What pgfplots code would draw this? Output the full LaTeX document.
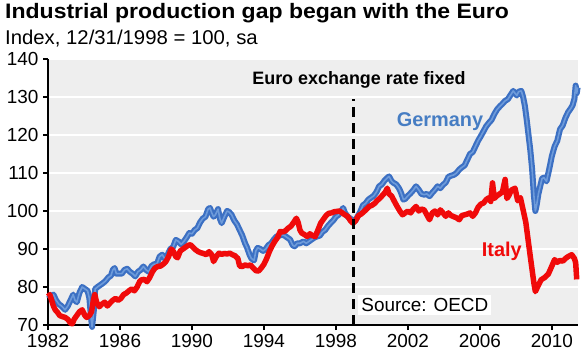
\documentclass[border=0pt]{standalone}
\usepackage{pgfplots}
\pgfplotsset{compat=1.18}
\usepackage{fontspec}
\setmainfont{Liberation Sans}
\definecolor{bg}{RGB}{238,238,238}
\definecolor{deblue}{RGB}{60,112,195}
\definecolor{deblueinner}{RGB}{110,155,218}
\definecolor{labblue}{RGB}{70,125,195}
\definecolor{itred}{RGB}{240,10,10}
\pgfplotstableread{
x y
1982.0 78.0
1982.15 77.5
1982.3 78.0
1982.45 76.5
1982.6 75.5
1982.75 75.0
1982.95 74.0
1983.1 75.0
1983.25 76.5
1983.4 78.0
1983.5 76.5
1983.6 76.0
1983.75 78.5
1983.9 80.0
1984.05 79.5
1984.2 79.0
1984.3 77.0
1984.4 71.5
1984.45 69.5
1984.55 74.0
1984.62 79.5
1984.75 80.0
1984.9 80.5
1985.05 81.0
1985.2 81.6
1985.35 82.5
1985.5 83.0
1985.6 84.5
1985.7 85.0
1985.8 83.5
1985.95 83.5
1986.1 83.5
1986.25 84.5
1986.4 84.8
1986.55 84.0
1986.7 83.5
1986.85 82.8
1987.0 84.0
1987.15 84.5
1987.3 85.4
1987.45 84.5
1987.6 84.0
1987.75 85.5
1987.9 86.0
1988.05 86.0
1988.2 88.0
1988.35 88.5
1988.5 87.4
1988.65 88.5
1988.8 90.0
1988.95 90.5
1989.1 92.4
1989.25 92.0
1989.4 91.2
1989.55 92.0
1989.7 93.0
1989.85 94.2
1990.0 94.0
1990.15 95.0
1990.3 95.5
1990.45 97.0
1990.6 98.0
1990.75 98.5
1990.9 100.5
1991.0 100.8
1991.1 99.5
1991.2 98.5
1991.3 99.0
1991.45 100.5
1991.55 98.0
1991.65 96.8
1991.8 98.5
1991.95 100.0
1992.05 99.8
1992.2 99.0
1992.35 97.5
1992.5 96.5
1992.65 95.0
1992.8 93.5
1992.95 91.5
1993.05 90.5
1993.2 88.5
1993.3 87.5
1993.45 87.0
1993.55 89.5
1993.65 90.3
1993.8 90.0
1993.95 89.5
1994.1 90.0
1994.25 91.0
1994.4 91.5
1994.55 92.5
1994.7 93.3
1994.85 93.5
1995.0 93.8
1995.15 93.5
1995.3 93.0
1995.45 92.5
1995.6 91.0
1995.7 90.7
1995.85 91.5
1996.0 91.5
1996.2 92.0
1996.35 91.5
1996.5 92.0
1996.65 92.5
1996.8 93.0
1996.95 93.3
1997.1 93.5
1997.25 94.5
1997.4 95.0
1997.55 96.0
1997.7 96.8
1997.85 97.5
1998.0 98.5
1998.15 99.0
1998.3 100.0
1998.4 100.8
1998.5 99.5
1998.65 98.5
1998.8 98.0
1998.95 97.5
1999.05 97.3
1999.2 98.5
1999.35 99.8
1999.5 101.5
1999.65 102.0
1999.8 103.0
1999.95 103.5
2000.1 104.0
2000.25 105.0
2000.4 106.5
2000.55 107.0
2000.7 108.0
2000.85 108.7
2000.95 109.1
2001.1 107.8
2001.2 107.4
2001.35 107.0
2001.5 106.0
2001.6 105.0
2001.75 103.0
2001.85 103.2
2002.0 104.0
2002.15 104.7
2002.3 105.5
2002.45 106.5
2002.6 105.6
2002.75 104.5
2002.9 104.3
2003.05 104.5
2003.2 103.9
2003.35 104.8
2003.5 105.6
2003.65 106.5
2003.8 106.0
2003.95 106.9
2004.1 107.5
2004.25 109.0
2004.4 109.3
2004.55 109.5
2004.7 110.0
2004.85 110.9
2005.0 111.5
2005.15 112.0
2005.3 113.5
2005.45 115.0
2005.6 115.5
2005.75 117.0
2005.9 118.5
2006.05 119.7
2006.2 121.0
2006.35 122.3
2006.5 123.2
2006.65 124.0
2006.8 125.5
2006.95 126.7
2007.1 127.5
2007.25 128.2
2007.4 129.0
2007.55 129.4
2007.7 130.5
2007.85 131.6
2007.95 131.0
2008.05 130.4
2008.15 131.4
2008.3 131.6
2008.4 130.0
2008.5 127.6
2008.6 124.0
2008.7 120.0
2008.8 116.0
2008.9 111.0
2009.0 104.0
2009.08 100.0
2009.15 101.5
2009.25 104.5
2009.35 106.5
2009.45 108.5
2009.55 108.8
2009.7 107.8
2009.85 111.0
2010.0 114.5
2010.15 117.0
2010.3 118.5
2010.45 121.5
2010.6 122.5
2010.75 124.5
2010.9 126.0
2011.05 127.0
2011.15 127.8
2011.25 129.5
2011.32 133.0
2011.38 131.0
2011.43 132.5
}\germany
\pgfplotstableread{
x y
1982.0 77.5
1982.1 78.0
1982.2 76.5
1982.3 75.0
1982.4 74.0
1982.5 73.5
1982.65 72.5
1982.8 72.2
1982.95 72.0
1983.1 71.5
1983.25 70.5
1983.35 70.3
1983.45 71.5
1983.6 72.5
1983.75 73.5
1983.9 74.0
1984.05 72.5
1984.15 72.0
1984.3 72.5
1984.42 73.5
1984.52 76.5
1984.6 78.0
1984.7 76.0
1984.85 74.8
1985.0 75.5
1985.15 76.0
1985.3 75.0
1985.45 75.8
1985.6 76.5
1985.75 77.0
1985.9 76.5
1986.05 77.0
1986.2 78.0
1986.35 78.4
1986.5 79.0
1986.65 79.5
1986.8 79.0
1986.95 80.0
1987.1 81.5
1987.2 81.9
1987.35 82.0
1987.5 81.4
1987.65 82.5
1987.8 84.0
1987.95 85.0
1988.1 85.4
1988.25 85.5
1988.4 86.0
1988.55 86.7
1988.7 88.0
1988.85 90.0
1988.95 89.5
1989.1 88.0
1989.2 87.7
1989.35 89.5
1989.5 90.0
1989.65 90.5
1989.8 91.0
1989.92 91.1
1990.05 90.5
1990.2 89.8
1990.35 89.3
1990.5 89.0
1990.65 88.8
1990.8 88.5
1990.95 89.3
1991.1 88.5
1991.2 86.7
1991.35 88.0
1991.5 88.9
1991.65 88.6
1991.8 88.8
1991.95 88.7
1992.1 88.9
1992.25 88.5
1992.4 88.2
1992.55 87.5
1992.65 85.5
1992.8 85.4
1992.95 85.8
1993.1 85.6
1993.25 85.8
1993.4 85.0
1993.55 84.3
1993.7 84.2
1993.85 85.0
1994.0 86.0
1994.15 87.5
1994.3 89.3
1994.45 90.8
1994.6 92.0
1994.75 93.0
1994.9 94.6
1995.05 94.5
1995.2 94.8
1995.35 95.5
1995.5 96.0
1995.65 97.0
1995.8 98.1
1995.9 97.0
1996.0 95.0
1996.1 94.2
1996.25 93.8
1996.4 93.3
1996.55 94.0
1996.7 93.5
1996.85 93.3
1997.0 95.0
1997.15 96.8
1997.3 97.8
1997.45 98.8
1997.6 99.4
1997.75 99.5
1997.9 99.8
1998.05 99.9
1998.2 100.0
1998.35 99.5
1998.5 99.0
1998.65 98.6
1998.8 97.5
1998.95 96.8
1999.1 97.5
1999.25 98.8
1999.4 99.2
1999.55 99.8
1999.7 100.5
1999.85 101.2
2000.0 101.5
2000.15 102.0
2000.3 102.8
2000.45 103.4
2000.6 104.2
2000.75 105.0
2000.85 106.0
2000.95 104.5
2001.1 103.9
2001.25 102.5
2001.4 101.2
2001.55 100.0
2001.7 99.0
2001.85 99.5
2002.0 100.0
2002.15 99.5
2002.3 100.5
2002.45 101.2
2002.6 100.0
2002.75 100.5
2002.9 100.3
2003.05 99.0
2003.2 97.7
2003.35 99.5
2003.5 100.0
2003.65 99.0
2003.8 100.3
2003.95 99.5
2004.1 98.6
2004.25 99.5
2004.4 98.8
2004.55 98.5
2004.7 98.2
2004.85 97.7
2005.0 98.8
2005.15 99.0
2005.3 99.2
2005.45 99.5
2005.6 98.6
2005.75 99.5
2005.9 101.0
2006.05 101.8
2006.2 102.1
2006.35 103.0
2006.5 103.5
2006.6 102.5
2006.7 107.4
2006.8 103.3
2006.95 104.0
2007.1 104.5
2007.25 105.0
2007.4 108.3
2007.5 103.3
2007.6 104.0
2007.75 105.5
2007.95 106.0
2008.1 102.7
2008.25 103.5
2008.4 100.3
2008.55 97.0
2008.7 91.6
2008.8 88.0
2008.9 84.5
2009.0 81.0
2009.08 78.8
2009.2 80.0
2009.4 81.9
2009.6 82.5
2009.8 83.4
2009.95 85.0
2010.15 87.2
2010.3 86.5
2010.45 87.0
2010.6 86.8
2010.75 87.5
2010.9 88.0
2011.1 88.5
2011.25 87.5
2011.32 86.4
2011.38 82.0
}\italy
\begin{document}
\begin{tikzpicture}
\path (0,0) rectangle (586bp,361bp);
\node[anchor=base west, inner sep=0pt] at (5bp,342.7bp) {\fontsize{21}{21}\selectfont\bfseries\scalebox{1.10}[1]{Industrial production gap began with the Euro}};
\node[anchor=base west, inner sep=0pt] at (5bp,316.7bp) {\fontsize{20}{20}\selectfont\scalebox{1.02}[1]{Index, 12/31/1998 = 100, sa}};
\begin{axis}[
  at={(48bp,36bp)}, anchor=south west,
  scale only axis, width=530bp, height=266bp,
  xmin=1982, xmax=2011.45, ymin=70, ymax=140,
  axis background/.style={fill=bg},
  axis x line*=bottom, axis y line*=left,
  axis line style={black, line width=2bp},
  xtick={1982,1986,...,2010}, ytick={70,80,...,140},
  tick align=outside, major tick length=5bp,
  tick style={black, line width=1.5bp},
  ymajorgrids, grid style={white, line width=2bp},
  /pgf/number format/1000 sep={},
  /pgf/number format/assume math mode=true,
  ticklabel style={font=\fontsize{19}{19}\selectfont},
  yticklabel style={xshift=-1bp},
  xticklabel style={yshift=-1bp},
  clip=false,
]
\addplot[deblue, line width=6bp, line join=round] table[x=x,y=y] {\germany};
\addplot[deblueinner, line width=1.6bp, line join=round] table[x=x,y=y] {\germany};
\addplot[itred, line width=5.5bp, line join=round] table[x=x,y=y] {\italy};
\addplot[black, line width=3bp, dash pattern=on 10bp off 6bp] coordinates {(1999,70) (1999,129.4)};
\node[font=\fontsize{18}{18}\selectfont\bfseries] at (axis cs:1999.28,134.6) {Euro exchange rate fixed};
\node[font=\fontsize{20}{20}\selectfont\bfseries, text=labblue] at (axis cs:2003.78,123.6) {Germany};
\node[font=\fontsize{20}{20}\selectfont\bfseries, text=itred] at (axis cs:2007.22,89.3) {Italy};
\node[font=\fontsize{19}{19}\selectfont, fill=white, inner sep=3bp] at (axis cs:2002.94,75.3) {Source: OECD};
\end{axis}
\end{tikzpicture}
\end{document}
